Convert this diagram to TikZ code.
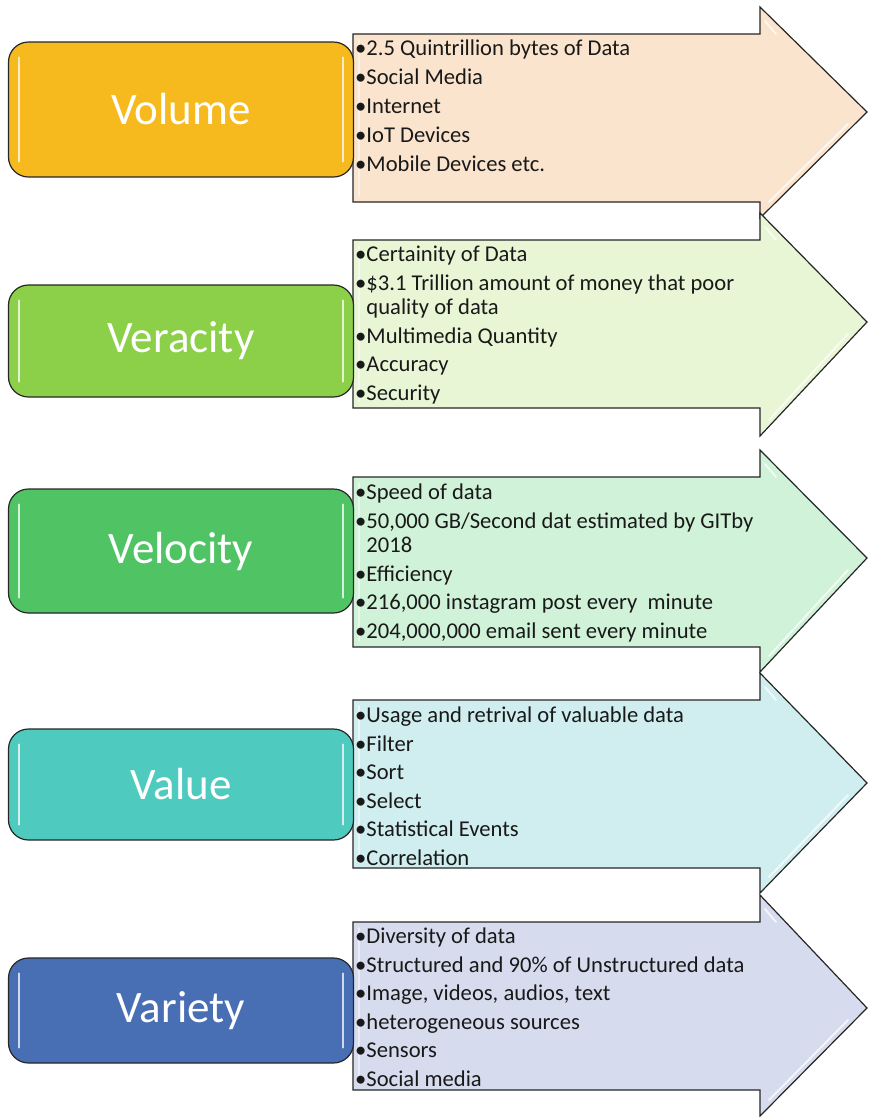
\documentclass[tikz,border=0pt]{standalone}
\usepackage{fontspec}
\setmainfont{Carlito}
\definecolor{volbox}{RGB}{246,186,30}
\definecolor{volfill}{RGB}{251,228,206}
\definecolor{verbox}{RGB}{140,208,74}
\definecolor{verfill}{RGB}{232,246,214}
\definecolor{velbox}{RGB}{80,196,100}
\definecolor{velfill}{RGB}{208,242,216}
\definecolor{valbox}{RGB}{78,203,190}
\definecolor{valfill}{RGB}{208,238,240}
\definecolor{varbox}{RGB}{72,110,180}
\definecolor{varfill}{RGB}{214,220,238}
\newcommand{\bul}{\textbullet}
\newcommand{\wrapind}{\phantom{\textbullet}}

\begin{document}
\begin{tikzpicture}[x=1pt,y=-1pt,
    vbox/.style={draw=black!85, line width=1.2pt, rounded corners=20pt, minimum width=345pt, inner sep=0pt, text=white, font=\fontsize{45}{50}\selectfont},
    vlist/.style={anchor=north west, align=left, inner sep=0pt, text=black!90, font=\fontsize{22.6}{28.5}\selectfont},
    varrow/.style={draw=black!85, line width=1.2pt, line join=miter},
    shine/.style={white, line width=1.8pt, opacity=0.75, line cap=round}]
            \useasboundingbox (0,0) rectangle (868,1117);
            \foreach \bt/\bb/\ht/\hb/\ty/\fc in {34/202/7/218/112/volfill, 240/408/213/436/322/verfill, 477/647/450/672/558/velfill, 700/868/673/893/783/valfill, 922/1090/895/1116/1008/varfill} {
              \draw [varrow, fill=\fc] (353,\bt) -- (760,\bt) -- (760,\ht) -- (867,\ty) -- (760,\hb) -- (760,\bb) -- (353,\bb) -- cycle;
              \draw [shine, opacity=0.5] (359,{\bt+6}) -- (359,{\bb-6});
              \draw [shine] (848,{\ty+12}) -- (769,{\hb-16});
              \draw [shine] (765,{\ht+14}) -- (776,{\ht+27});
            }
            \node [vbox, fill=volbox, minimum height=135pt] (volume) at (181,109.5) {Volume};
            \node [vbox, fill=verbox, minimum height=112pt] (veracity) at (181,341) {Veracity};
            \node [vbox, fill=velbox, minimum height=124pt] (velocity) at (181,551) {Velocity};
            \node [vbox, fill=valbox, minimum height=111pt] (value) at (181,784.5) {Value};
            \node [vbox, fill=varbox, minimum height=105pt] (variety) at (181,1010.5) {Variety};
            \foreach \n in {volume,veracity,velocity,value,variety} {
              \draw [shine] ([xshift=11pt,yshift=-16pt]\n.north west) -- ([xshift=11pt,yshift=16pt]\n.south west);
              \draw [shine] ([xshift=-11pt,yshift=-16pt]\n.north east) -- ([xshift=-11pt,yshift=16pt]\n.south east);
            }
            \node [vlist, font=\fontsize{22.6}{29}\selectfont] (volumelist) at (355,39.5) {\bul2.5 Quintrillion bytes of Data\\ \bul Social Media\\ \bul Internet\\ \bul IoT Devices\\ \bul Mobile Devices etc.};
            \node [vlist] (veracitylist) at (355,246) {\bul Certainity of Data\\ \bul\$3.1 Trillion amount of money that poor\\[-4pt] \wrapind quality of data\\ \bul Multimedia Quantity\\ \bul Accuracy\\ \bul Security};
            \node [vlist] (velocitylist) at (355,484) {\bul Speed of data\\ \bul50,000 GB/Second dat estimated by GITby\\[-4pt] \wrapind 2018\\ \bul Efficiency\\ \bul216,000 instagram post every~ minute\\ \bul204,000,000 email sent every minute};
            \node [vlist] (valuelist) at (355,707) {\bul Usage and retrival of valuable data\\ \bul Filter\\ \bul Sort\\ \bul Select\\ \bul Statistical Events\\ \bul Correlation};
            \node [vlist] (varietylist) at (355,928) {\bul Diversity of data\\ \bul Structured and 90\% of Unstructured data\\ \bul Image, videos, audios, text\\ \bul heterogeneous sources\\ \bul Sensors\\ \bul Social media};
\end{tikzpicture}
\end{document}
